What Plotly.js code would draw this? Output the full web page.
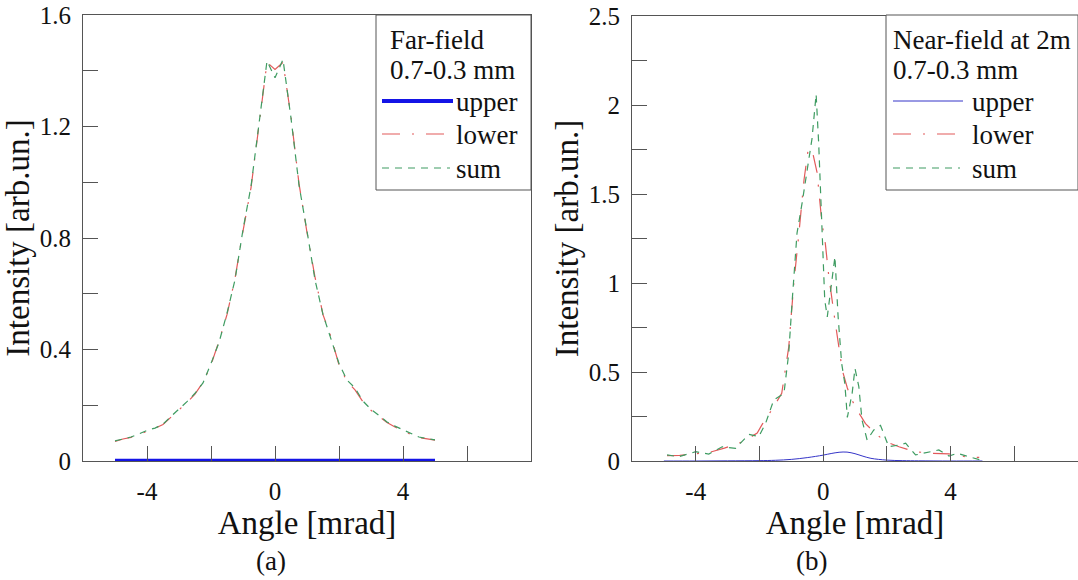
<!DOCTYPE html>
<html>
<head>
<meta charset="utf-8">
<script src="https://cdn.plot.ly/plotly-3.0.1.min.js"></script>
<style>
html,body{margin:0;padding:0;background:#fff;}
#chart{width:1078px;height:580px;}
</style>
</head>
<body>
<div id="chart"></div>
<script>
// ---------- DATA ----------
// (a) Far-field
const farX = [-5, -4.75, -4.5, -4.25, -4, -3.75, -3.5, -3.25, -3, -2.75, -2.5, -2.25, -2, -1.75, -1.5, -1.25, -1, -0.75, -0.5, -0.25, 0, 0.25, 0.5, 0.75, 1, 1.25, 1.5, 1.75, 2, 2.25, 2.5, 2.75, 3, 3.25, 3.5, 3.75, 4, 4.25, 4.5, 4.75, 5];
const farUpper = [0.001, 0.001, 0.001, 0.001, 0.001, 0.001, 0.001, 0.001, 0.001, 0.001, 0.001, 0.001, 0.001, 0.002, 0.002, 0.002, 0.002, 0.003, 0.003, 0.003, 0.003, 0.003, 0.003, 0.003, 0.002, 0.002, 0.002, 0.002, 0.001, 0.001, 0.001, 0.001, 0.001, 0.001, 0.001, 0.001, 0.001, 0.001, 0.001, 0.001, 0.001];
const farLower = [0.070, 0.079, 0.085, 0.096, 0.108, 0.117, 0.131, 0.158, 0.182, 0.210, 0.240, 0.282, 0.345, 0.430, 0.525, 0.655, 0.825, 0.980, 1.205, 1.430, 1.405, 1.430, 1.235, 0.995, 0.820, 0.660, 0.525, 0.445, 0.345, 0.285, 0.255, 0.212, 0.182, 0.160, 0.138, 0.122, 0.108, 0.095, 0.084, 0.079, 0.075];
const farSum = [0.072, 0.080, 0.086, 0.097, 0.110, 0.118, 0.132, 0.160, 0.185, 0.213, 0.243, 0.280, 0.350, 0.425, 0.530, 0.650, 0.830, 0.985, 1.210, 1.435, 1.375, 1.440, 1.230, 0.990, 0.825, 0.650, 0.525, 0.440, 0.350, 0.290, 0.262, 0.215, 0.185, 0.163, 0.140, 0.125, 0.111, 0.097, 0.086, 0.080, 0.076];

// (b) Near-field at 2m
const nearUpperX = [-5, -4, -3, -2, -1.5, -1, -0.5, 0, 0.25, 0.5, 0.75, 1, 1.25, 1.5, 2, 2.5, 3, 4, 5];
const nearUpper = [0, 0, 0.001, 0.002, 0.004, 0.009, 0.019, 0.033, 0.042, 0.049, 0.050, 0.041, 0.027, 0.015, 0.005, 0.002, 0.001, 0, 0];
const nearLowerX = [-4.9, -4.5, -4.0, -3.5, -3.1, -2.5, -2.07, -1.9, -1.6, -1.3, -1.08, -0.92, -0.76, -0.6, -0.47, -0.35, -0.19, -0.04, 0.07, 0.17, 0.33, 0.47, 0.6, 0.76, 0.91, 1.07, 1.33, 1.64, 1.95, 2.38, 2.9, 3.43, 3.95, 4.47, 4.9];
const nearLower = [0.030, 0.032, 0.040, 0.052, 0.072, 0.110, 0.157, 0.210, 0.290, 0.380, 0.640, 1.000, 1.280, 1.580, 1.750, 1.750, 1.620, 1.340, 1.220, 1.050, 0.840, 0.680, 0.510, 0.410, 0.340, 0.285, 0.210, 0.155, 0.110, 0.080, 0.052, 0.043, 0.040, 0.024, 0.020];
const nearSumX = [-4.9, -4.53, -4.0, -3.59, -3.17, -2.75, -2.33, -2.02, -1.81, -1.55, -1.23, -1.08, -0.97, -0.82, -0.66, -0.5, -0.35, -0.22, -0.14, -0.05, 0.05, 0.13, 0.28, 0.37, 0.47, 0.58, 0.68, 0.76, 0.91, 1.0, 1.12, 1.22, 1.38, 1.59, 1.8, 2.06, 2.38, 2.59, 2.9, 3.27, 3.63, 3.95, 4.21, 4.57, 4.94];
const nearSum = [0.034, 0.024, 0.052, 0.039, 0.080, 0.071, 0.150, 0.137, 0.210, 0.343, 0.380, 0.605, 0.905, 1.280, 1.450, 1.640, 1.810, 2.060, 1.785, 1.370, 0.905, 0.810, 1.035, 1.148, 0.810, 0.550, 0.436, 0.245, 0.380, 0.520, 0.418, 0.230, 0.118, 0.174, 0.200, 0.080, 0.090, 0.100, 0.034, 0.047, 0.062, 0.028, 0.043, 0.024, 0.006];

const xTickVals = [-4, 0, 4];
const xTickText = ['-4', '0', '4'];
const yTickValsA = [0, 0.4, 0.8, 1.2, 1.6];
const yTickTextA = ['0', '0.4', '0.8', '1.2', '1.6'];
const yTickValsB = [0, 0.5, 1, 1.5, 2, 2.5];
const yTickTextB = ['0', '0.5', '1', '1.5', '2', '2.5'];
const seriesNames = ['upper', 'lower', 'sum'];
const legendTitleA = ['Far-field', '0.7-0.3 mm'];
const legendTitleB = ['Near-field at 2m', '0.7-0.3 mm'];
const captions = ['(a)', '(b)'];
const xTitle = 'Angle [mrad]';
const yTitle = 'Intensity [arb.un.]';

// ---------- STYLE ----------
const W = 1078, H = 580;
const px = v => v / W;
const py = v => 1 - v / H;
const FONT = 'Liberation Serif';
const BLUE = '#1414e6', BLUE2 = '#3535c8', RED = '#e25a5a', GREEN = '#3f9c62';
const DASHDOT = '18px,12px,2px,12px';
const DASH = '7px,6px';
const AX = '#555';
const TXT = '#111';

const traces = [
  {x: farX, y: farUpper, xaxis: 'x', yaxis: 'y', mode: 'lines', name: 'upper', line: {color: BLUE, width: 4}},
  {x: farX, y: farLower, xaxis: 'x', yaxis: 'y', mode: 'lines', name: 'lower', line: {color: RED, width: 1.2, dash: DASHDOT}},
  {x: farX, y: farSum, xaxis: 'x', yaxis: 'y', mode: 'lines', name: 'sum', line: {color: GREEN, width: 1.2, dash: DASH}},
  {x: nearUpperX, y: nearUpper, xaxis: 'x2', yaxis: 'y2', mode: 'lines', name: 'upper', line: {color: BLUE2, width: 1, shape: 'spline'}},
  {x: nearLowerX, y: nearLower, xaxis: 'x2', yaxis: 'y2', mode: 'lines', name: 'lower', line: {color: RED, width: 1.2, dash: DASHDOT}},
  {x: nearSumX, y: nearSum, xaxis: 'x2', yaxis: 'y2', mode: 'lines', name: 'sum', line: {color: GREEN, width: 1.2, dash: DASH}}
];

function xAxis(domain, anchor) {
  return {
    domain: domain, anchor: anchor, range: [-6, 8], fixedrange: true,
    showline: true, mirror: true, linecolor: AX, linewidth: 1,
    showgrid: false, zeroline: false,
    ticks: 'inside', ticklen: 15, tickcolor: AX, tickwidth: 1,
    tickmode: 'array', tickvals: xTickVals, ticktext: xTickText,
    minor: {tickmode: 'linear', tick0: 0, dtick: 2, ticks: 'inside', ticklen: 15, tickcolor: AX, tickwidth: 1, showgrid: false},
    tickfont: {family: FONT, size: 25, color: TXT},
    ticklabelstandoff: 8,
    title: {text: xTitle, font: {family: FONT, size: 33, color: TXT}, standoff: 4},
    automargin: false
  };
}
function yAxis(domain, anchor, range, vals, text, minorStep) {
  return {
    domain: domain, anchor: anchor, range: range, fixedrange: true,
    showline: true, mirror: true, linecolor: AX, linewidth: 1,
    showgrid: false, zeroline: false,
    ticks: 'inside', ticklen: 15, tickcolor: AX, tickwidth: 1,
    tickmode: 'array', tickvals: vals, ticktext: text,
    minor: {tickmode: 'linear', tick0: 0, dtick: minorStep, ticks: 'inside', ticklen: 15, tickcolor: AX, tickwidth: 1, showgrid: false},
    tickfont: {family: FONT, size: 25, color: TXT},
    ticklabelstandoff: 6,
    title: {text: yTitle, font: {family: FONT, size: 33, color: TXT}, standoff: 0},
    automargin: false
  };
}

const shapes = [];
const annotations = [];
function legendBlock(x0, x1, textX, sampleX, labelX, sampleEnds, titles, upperStyle) {
  shapes.push({type: 'rect', xref: 'paper', yref: 'paper', x0: px(x0), x1: px(x1), y0: py(190), y1: py(15),
    line: {color: AX, width: 1}, fillcolor: 'white', layer: 'above'});
  const rowsY = [101, 134, 168];
  const styles = [upperStyle, {color: RED, width: 1.2, dash: DASHDOT}, {color: GREEN, width: 1.2, dash: DASH}];
  for (let i = 0; i < 3; i++) {
    shapes.push({type: 'line', xref: 'paper', yref: 'paper', x0: px(sampleX), x1: px(sampleEnds[i]), y0: py(rowsY[i]), y1: py(rowsY[i]),
      line: styles[i], layer: 'above'});
    annotations.push({xref: 'paper', yref: 'paper', x: px(labelX), y: py(rowsY[i] + 1), xanchor: 'left', yanchor: 'middle',
      text: seriesNames[i], showarrow: false, font: {family: FONT, size: 27, color: TXT}});
  }
  annotations.push({xref: 'paper', yref: 'paper', x: px(textX), y: py(40), xanchor: 'left', yanchor: 'middle',
    text: titles[0], showarrow: false, font: {family: FONT, size: 27, color: TXT}});
  annotations.push({xref: 'paper', yref: 'paper', x: px(textX), y: py(70), xanchor: 'left', yanchor: 'middle',
    text: titles[1], showarrow: false, font: {family: FONT, size: 27, color: TXT}});
}
legendBlock(376, 531, 388, 382, 454, [453, 446, 450], legendTitleA, {color: BLUE, width: 4});
legendBlock(886, 1078, 891, 893, 970, [963, 955, 960], legendTitleB, {color: BLUE2, width: 1});

annotations.push({xref: 'paper', yref: 'paper', x: px(271), y: py(561), xanchor: 'center', yanchor: 'middle',
  text: captions[0], showarrow: false, font: {family: FONT, size: 27, color: TXT}});
annotations.push({xref: 'paper', yref: 'paper', x: px(811), y: py(561), xanchor: 'center', yanchor: 'middle',
  text: captions[1], showarrow: false, font: {family: FONT, size: 27, color: TXT}});

const layout = {
  width: W, height: H,
  margin: {l: 0, r: 0, t: 0, b: 0, pad: 0},
  paper_bgcolor: 'white', plot_bgcolor: 'white',
  showlegend: false,
  font: {family: FONT, color: TXT},
  xaxis: xAxis([px(83), px(531)], 'y'),
  yaxis: yAxis([py(461), py(15)], 'x', [0, 1.6], yTickValsA, yTickTextA, 0.2),
  xaxis2: xAxis([px(632), 1], 'y2'),
  yaxis2: yAxis([py(461), py(16)], 'x2', [0, 2.5], yTickValsB, yTickTextB, 0.25),
  shapes: shapes,
  annotations: annotations
};

Plotly.newPlot('chart', traces, layout, {staticPlot: true, displayModeBar: false});
</script>
</body>
</html>
